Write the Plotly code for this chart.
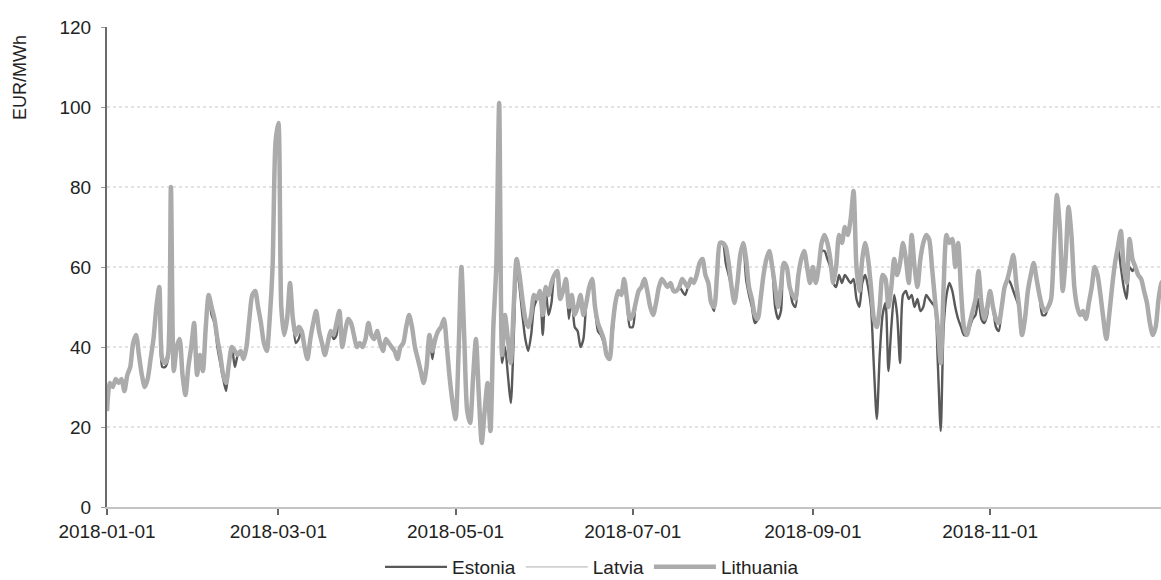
import pandas as pd
import plotly.graph_objects as go

# Daily day-ahead prices, EUR/MWh, 2018 (one row per month)
lithuania = [
    24, 31, 30, 32, 31, 32, 29, 33, 35, 41, 43, 38, 33, 30, 32, 37, 42, 50, 55, 37, 36, 38, 80, 34, 40, 42, 33, 28, 35, 40, 46,
    33, 38, 34, 45, 53, 50, 47, 42, 38, 33, 31, 36, 40, 39, 38, 39, 37, 40, 47, 53, 54, 50, 46, 41, 39, 47, 60, 91,
    96, 50, 43, 47, 56, 47, 43, 45, 44, 40, 37, 42, 46, 49, 44, 41, 38, 41, 44, 43, 46, 49, 40, 44, 47, 46, 43, 40, 41, 40, 42,
    46, 43, 42, 44, 41, 39, 42, 41, 40, 39, 37, 40, 41, 45, 48, 45, 40, 37, 34, 31, 35, 43, 39, 42, 44, 45, 47, 40, 32, 26,
    22, 38, 60, 42, 24, 21, 32, 42, 28, 16, 24, 31, 19, 45, 60, 101, 38, 48, 42, 36, 50, 62, 58, 52, 47, 45, 48, 53, 52, 54, 48,
    55, 53, 56, 58, 59, 52, 54, 57, 50, 53, 48, 50, 53, 48, 51, 55, 57, 50, 46, 44, 42, 38, 37, 45, 51, 54, 53, 57, 52, 47,
    48, 51, 54, 55, 57, 54, 50, 48, 51, 55, 57, 56, 55, 56, 54, 54, 55, 57, 56, 55, 57, 56, 58, 61, 62, 58, 56, 51, 50, 58, 66,
    66, 65, 61, 55, 51, 56, 63, 66, 62, 55, 52, 48, 47, 52, 58, 62, 64, 60, 55, 50, 55, 61, 60, 55, 53, 52, 58, 62, 64, 60, 56,
    60, 56, 60, 66, 68, 66, 62, 56, 60, 68, 66, 70, 68, 72, 79, 60, 54, 62, 66, 62, 55, 47, 45, 50, 58, 57, 50, 55, 62, 58,
    61, 66, 62, 56, 68, 60, 55, 62, 66, 68, 67, 60, 52, 45, 36, 55, 68, 66, 67, 60, 66, 54, 45, 43, 46, 49, 52, 59, 51, 47, 50,
    54, 50, 47, 46, 50, 55, 57, 60, 63, 56, 50, 43, 47, 54, 58, 61, 57, 53, 50, 49, 50, 52, 65, 78, 70, 54, 62, 75, 68, 55,
    50, 48, 49, 47, 51, 55, 60, 58, 53, 47, 42, 48, 55, 61, 65, 69, 60, 56, 67, 62, 60, 58, 57, 54, 51, 46, 43, 45, 52, 56, 57,
]

latvia = [
    24, 31, 30, 32, 31, 32, 29, 33, 35, 41, 43, 38, 33, 30, 32, 37, 42, 50, 55, 37, 36, 38, 80, 34, 40, 42, 33, 28, 35, 40, 46,
    33, 38, 34, 45, 53, 50, 47, 42, 38, 33, 31, 36, 40, 39, 38, 39, 37, 40, 47, 53, 54, 50, 46, 41, 39, 47, 60, 91,
    96, 50, 43, 47, 56, 47, 43, 45, 44, 40, 37, 42, 46, 49, 44, 41, 38, 41, 44, 43, 46, 49, 40, 44, 47, 46, 43, 40, 41, 40, 42,
    46, 43, 42, 44, 41, 39, 42, 41, 40, 39, 37, 40, 41, 45, 48, 45, 40, 37, 34, 31, 35, 43, 39, 42, 44, 45, 47, 40, 32, 26,
    22, 38, 60, 42, 24, 21, 32, 42, 28, 16, 24, 31, 19, 45, 60, 101, 38, 48, 42, 36, 50, 62, 58, 52, 47, 45, 48, 53, 52, 54, 48,
    55, 53, 56, 58, 59, 52, 54, 57, 50, 53, 48, 50, 53, 48, 51, 55, 57, 50, 46, 44, 42, 38, 37, 45, 51, 54, 53, 57, 52, 47,
    48, 51, 54, 55, 57, 54, 50, 48, 51, 55, 57, 56, 55, 56, 54, 54, 55, 57, 56, 55, 57, 56, 58, 61, 62, 58, 56, 51, 50, 58, 66,
    66, 65, 61, 55, 51, 56, 63, 66, 62, 55, 52, 48, 47, 52, 58, 62, 64, 60, 55, 50, 55, 61, 60, 55, 53, 52, 58, 62, 64, 60, 56,
    60, 56, 60, 66, 68, 66, 62, 56, 60, 68, 66, 70, 68, 72, 79, 60, 54, 62, 66, 62, 55, 47, 45, 50, 58, 57, 50, 55, 62, 58,
    61, 66, 62, 56, 68, 60, 55, 62, 66, 68, 67, 60, 52, 45, 36, 55, 68, 66, 67, 60, 66, 54, 45, 43, 46, 49, 52, 59, 51, 47, 50,
    54, 50, 47, 46, 50, 55, 57, 60, 63, 56, 50, 43, 47, 54, 58, 61, 57, 53, 50, 49, 50, 52, 65, 78, 70, 54, 62, 75, 68, 55,
    50, 48, 49, 47, 51, 55, 60, 58, 53, 47, 42, 48, 55, 61, 65, 69, 60, 56, 67, 62, 60, 58, 57, 54, 51, 46, 43, 45, 52, 56, 57,
]

estonia = [
    24, 31, 30, 32, 31, 32, 29, 33, 35, 41, 43, 38, 33, 30, 32, 37, 42, 50, 55, 35, 35, 37, 80, 34, 40, 42, 33, 28, 35, 40, 46,
    33, 38, 34, 45, 53, 48, 46, 40, 36, 32, 29, 36, 40, 35, 38, 39, 37, 40, 47, 53, 54, 50, 46, 41, 39, 47, 60, 90,
    96, 50, 43, 47, 56, 47, 41, 42, 44, 40, 37, 42, 46, 49, 44, 41, 38, 41, 44, 42, 43, 49, 40, 44, 47, 46, 43, 40, 41, 40, 42,
    46, 43, 42, 44, 41, 39, 42, 41, 40, 39, 37, 40, 41, 45, 48, 45, 40, 37, 34, 31, 35, 43, 37, 42, 44, 45, 47, 40, 32, 26,
    22, 38, 60, 42, 24, 21, 32, 42, 28, 16, 24, 31, 19, 45, 58, 60, 36, 40, 33, 26, 42, 60, 55, 48, 42, 39, 43, 50, 52, 54, 43,
    55, 48, 51, 58, 59, 52, 54, 57, 47, 53, 45, 44, 40, 42, 51, 55, 57, 50, 44, 43, 41, 38, 37, 43, 51, 54, 53, 57, 52, 45,
    45, 51, 54, 55, 57, 54, 50, 48, 51, 55, 57, 56, 55, 56, 54, 54, 55, 54, 53, 55, 57, 56, 58, 61, 62, 58, 56, 51, 49, 58, 66,
    66, 61, 58, 55, 51, 56, 63, 66, 57, 53, 50, 46, 47, 52, 58, 62, 64, 60, 50, 47, 49, 61, 60, 55, 51, 50, 58, 62, 64, 60, 56,
    60, 56, 60, 64, 64, 62, 60, 56, 55, 58, 56, 58, 57, 56, 57, 52, 50, 56, 58, 55, 50, 35, 22, 38, 48, 51, 34, 45, 53, 48,
    36, 53, 54, 52, 53, 50, 52, 49, 50, 53, 52, 51, 50, 36, 19, 45, 53, 56, 54, 50, 47, 45, 43, 43, 45, 47, 48, 52, 47, 46, 48,
    54, 50, 45, 44, 50, 55, 57, 56, 54, 52, 50, 43, 47, 54, 58, 61, 57, 53, 48, 48, 50, 52, 65, 78, 70, 54, 62, 75, 68, 55,
    50, 48, 48, 47, 51, 55, 60, 58, 53, 47, 42, 48, 55, 61, 65, 60, 55, 52, 60, 59, 60, 58, 57, 54, 51, 46, 43, 45, 52, 56, 57,
]

dates = pd.date_range("2018-01-01", periods=len(lithuania), freq="D")

FONT = "Liberation Sans, Arial, sans-serif"
TEXT = "#222222"

fig = go.Figure()
fig.add_trace(go.Scatter(
    x=dates, y=estonia, name="Estonia", mode="lines",
    line=dict(color="#595959", width=2.4, shape="spline", smoothing=0.7),
))
fig.add_trace(go.Scatter(
    x=dates, y=latvia, name="Latvia", mode="lines",
    line=dict(color="#d0d0d0", width=1.8, shape="spline", smoothing=0.7),
))
fig.add_trace(go.Scatter(
    x=dates, y=lithuania, name="Lithuania", mode="lines",
    line=dict(color="#ababab", width=4.5, shape="spline", smoothing=0.7),
))

fig.update_layout(
    width=1161, height=580,
    margin=dict(l=107, r=0, t=27, b=73, autoexpand=False),
    paper_bgcolor="white", plot_bgcolor="white",
    font=dict(family=FONT, size=19, color=TEXT),
    showlegend=True,
    legend=dict(
        orientation="h", x=(380 - 107) / 1054, xanchor="left",
        y=-(548 - 507) / 480, yanchor="top",
        font=dict(size=19, color=TEXT),
        itemwidth=62,
        bgcolor="rgba(0,0,0,0)", tracegroupgap=0,
    ),
    xaxis=dict(
        type="date",
        range=["2018-01-01", "2018-12-29 20:00"],
        tick0="2018-01-01", dtick="M2", tickformat="%Y-%m-%d",
        showgrid=False, zeroline=False,
        showline=True, linecolor="#c4c4c4", linewidth=1.5,
        ticks="outside", ticklen=6, tickcolor="#666666", tickwidth=1.5,
        tickfont=dict(size=19, color=TEXT),
    ),
    yaxis=dict(
        range=[0, 120], dtick=20, tick0=0,
        showgrid=True, gridcolor="#e3e3e3", gridwidth=1.5, griddash="dot",
        zeroline=False,
        showline=True, linecolor="#6a6a6a", linewidth=2,
        ticks="outside", ticklen=4, tickcolor="#999999",
        ticklabelstandoff=6,
        tickfont=dict(size=19, color=TEXT),
    ),
)

fig.add_annotation(
    text="EUR/MWh", textangle=-90,
    xref="paper", yref="paper",
    x=(20 - 107) / 1054, y=(507 - 78) / 480,
    xanchor="center", yanchor="middle",
    showarrow=False, font=dict(size=18, color=TEXT, family=FONT),
)

fig.write_html("out.html")
